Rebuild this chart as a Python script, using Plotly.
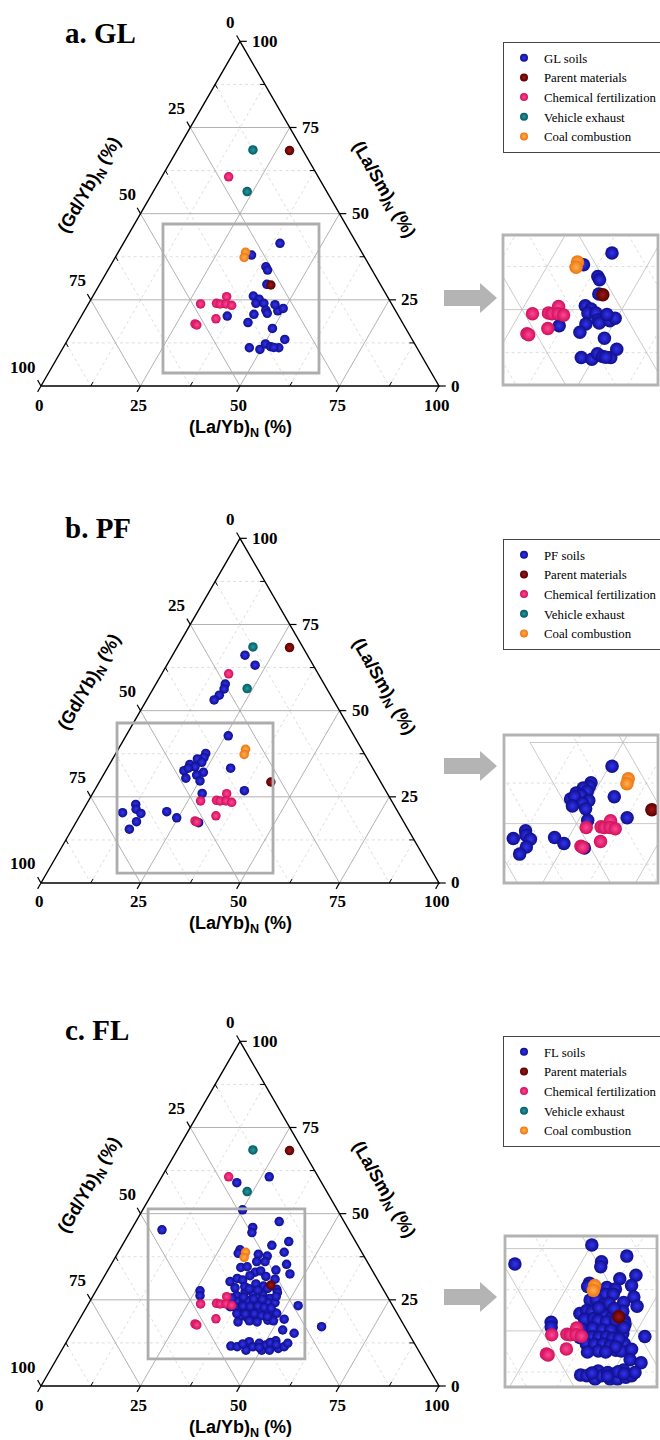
import numpy as np
import plotly.graph_objects as go

W, H = 660, 1440
S3 = np.sqrt(3) / 2

# ---------------- DATA (values in %) ----------------
# each sample: (La/Yb)N %, (La/Sm)N %   ->  (Gd/Yb)N % = 100 - the two
parent_layb = [28.3, 43.1]
parent_lasm = [68.3, 29.3]
fert_layb = [16.8, 28.2, 32.1, 33.1, 33.7, 34.6, 36.2, 34.2, 29.7, 30.3]
fert_lasm = [60.7, 23.8, 24.0, 23.8, 25.9, 23.8, 23.4, 19.5, 18.0, 17.7]
vehicle_layb = [19.0, 23.6]
vehicle_lasm = [68.5, 56.4]
coal_layb = [32.0, 32.4]
coal_lasm = [38.8, 37.3]

gl_layb = [39.35, 33.9, 39.2, 40.1, 42.0, 40.3, 42.2, 42.0, 44.0, 45.5, 46.3, 48.6, 49.6,
           43.1, 42.8, 49.8, 36.65, 46.8, 49.7, 50.3, 52.0, 54.2, 54.5, 52.9, 47.0]
gl_lasm = [41.4, 38.0, 34.6, 33.65, 29.5, 26.1, 25.2, 24.0, 24.0, 22.0, 21.1, 21.8, 22.5,
           20.8, 18.4, 16.7, 20.3, 11.1, 10.6, 12.2, 11.4, 11.1, 13.5, 11.2, 23.6]

pf_layb = [18.2, 22.2, 17.45, 17.85, 17.55, 16.95, 25.7, 31.0, 37.7, 27.5, 22.6, 22.75, 21.3,
           22.9, 20.2, 21.85, 19.6, 20.35, 24.75, 23.45, 21.2, 25.15, 10.3, 12.4, 13.2, 15.0,
           15.1, 14.4, 21.25, 24.65, 30.85]
pf_lasm = [66.1, 63.2, 57.7, 56.3, 54.5, 53.1, 42.7, 33.3, 26.8, 26.0, 37.6, 36.4, 36.0,
           35.0, 34.4, 33.7, 32.6, 33.3, 32.1, 31.3, 30.4, 29.6, 20.4, 22.8, 21.4, 20.2,
           17.8, 15.6, 20.7, 18.9, 17.5]

fl_layb = [27.0, 19.7, 25.1, 36.0, 7.75, 30.2, 30.75, 41.3, 37.6, 41.7, 30.25, 30.3, 35.5, 38.0,
           36.15, 38.25, 44.05, 33.0, 34.5, 37.3, 38.5, 42.2, 46.3, 32.35, 33.7, 35.3, 39.2, 41.4,
           43.3, 45.2, 45.85, 26.15, 26.85, 36.1, 37.6, 40.0, 42.5, 44.8, 36.0, 37.05, 38.8, 39.35,
           41.55, 43.55, 45.0, 46.7, 38.55, 40.3, 41.95, 43.85, 45.8, 47.4, 48.65, 39.95, 41.9,
           44.25, 47.45, 48.95, 51.4, 52.95, 61.9, 52.6, 55.95, 41.9, 43.6, 46.3, 45.9, 47.5,
           48.65, 50.25, 50.55, 52.2, 52.45, 54.15, 55.4, 55.8,
           34.5, 36.8, 38.2, 40.6, 42.8, 35.2, 38.0, 40.8, 43.0, 46.1, 37.3, 39.2, 41.0, 42.9,
           44.7, 46.5, 38.7, 40.9, 43.1, 45.2, 46.8, 42.9, 45.0, 40.2, 44.6, 49.2, 51.3, 53.1,
           40.6, 36.5]
fl_lasm = [60.7, 59.0, 51.1, 47.7, 45.3, 46.0, 44.5, 41.9, 40.8, 38.8, 39.5, 38.5, 38.2, 37.7,
           36.1, 36.1, 35.3, 34.4, 34.6, 33.0, 33.4, 33.65, 32.5, 30.3, 31.2, 30.75, 29.6, 29.0,
           31.0, 28.05, 27.1, 27.6, 26.2, 26.2, 27.4, 26.7, 26.4, 25.4, 23.0, 24.5, 24.0, 24.9,
           24.5, 24.3, 24.2, 24.2, 22.3, 22.0, 22.3, 22.0, 21.4, 21.55, 21.1, 20.1, 19.8,
           20.1, 19.1, 18.9, 19.4, 23.3, 17.2, 16.25, 15.3, 11.6, 11.4, 10.4, 12.85, 11.4,
           12.4, 10.4, 11.9, 10.4, 13.1, 10.9, 11.4, 12.4,
           28.5, 28.8, 28.2, 27.8, 28.3, 25.5, 25.8, 25.3, 25.2, 26.0, 22.9, 23.2, 23.1, 23.2,
           22.8, 22.6, 21.0, 20.9, 21.0, 20.4, 20.2, 18.9, 18.6, 18.6, 12.2, 11.2, 12.6, 12.0,
           31.8, 32.0]

panel_titles = ["a. GL", "b. PF", "c. FL"]
soil_names = ["GL soils", "PF soils", "FL soils"]
source_names = ["Parent materials", "Chemical fertilization", "Vehicle exhaust", "Coal combustion"]
tick_vals = [0, 25, 50, 75, 100]
minor_vals = [12.5, 37.5, 62.5, 87.5]

# zoom windows (units of the bottom axis) : main-rectangle and inset view
zoom_rect = [([30.65, 69.85], [3.27, 40.7]), ([19.1, 58.3], [2.5, 40.2]), ([26.9, 66.3], [6.8, 44.5])]
inset_view = [([32.7, 71.6], [2.7, 40.4]), ([18.0, 59.4], [5.8, 45.3]), ([27.8, 67.8], [6.9, 46.6])]

# ---------------- STYLE / LAYOUT GEOMETRY ----------------
SERIF = "Liberation Serif"
SANS = "Liberation Sans"
PX0, SC = 41.0, 3.98
panel_px = [dict(top=0, bot=460, yb=386), dict(top=480, bot=960, yb=883), dict(top=980, bot=1440, yb=1386)]
inset_px = [(503, 658, 235, 385), (504, 658, 735, 883), (505, 657, 1236, 1387)]
arrow_cy = [298, 766, 1297]
legend_top = [42, 539, 1036]
title_y = [33, 528, 1030]

COL = {
    "soil": ("#0e0e8c", "#3434f0"),
    "parent": ("#560000", "#a01818"),
    "fert": ("#d0105c", "#ff4896"),
    "vehicle": ("#005a62", "#2a98a0"),
    "coal": ("#ee7410", "#ffb050"),
}


def tern(layb, lasm):
    layb = np.asarray(layb, float)
    lasm = np.asarray(lasm, float)
    return layb + lasm / 2.0, lasm * S3


def grid_xy(vals):
    xs, ys = [], []
    for t in vals:
        xs += [t / 2, 100 - t / 2, None]; ys += [t * S3, t * S3, None]
        xs += [(100 - t) / 2, 100 - t, None]; ys += [(100 - t) * S3, 0, None]
        xs += [t, t + (100 - t) / 2, None]; ys += [0, (100 - t) * S3, None]
    return xs, ys


def tick_xy(vals, L):
    xs, ys = [], []
    for t in vals:
        xs += [t, t - 0.5 * L, None]; ys += [0, -S3 * L, None]
        x0, y0 = 100 - t / 2, t * S3
        xs += [x0, x0 + L, None]; ys += [y0, y0, None]
        x0, y0 = (100 - t) / 2, (100 - t) * S3
        xs += [x0, x0 - 0.5 * L, None]; ys += [y0, y0 + S3 * L, None]
    return xs, ys


def in_rect(x, y, rect):
    (x0, x1), (y0, y1) = rect
    m = (x >= x0) & (x <= x1) & (y >= y0) & (y <= y1)
    return x[m], y[m]


fig = go.Figure()
layout = dict(width=W, height=H, margin=dict(l=0, r=0, t=0, b=0, autoexpand=False),
              paper_bgcolor="white", plot_bgcolor="white", showlegend=True)
annotations, shapes = [], []

soils = [(gl_layb, gl_lasm), (pf_layb, pf_lasm), (fl_layb, fl_lasm)]
sources = [("parent", parent_layb, parent_lasm), ("fert", fert_layb, fert_lasm),
           ("vehicle", vehicle_layb, vehicle_lasm), ("coal", coal_layb, coal_lasm)]


def marker(key, size):
    edge, center = COL[key]
    return dict(color=edge, size=size, line=dict(width=0),
                gradient=dict(type="radial", color=center))


for i in range(3):
    g = panel_px[i]
    mx, my = (f"x{2*i+1}", f"y{2*i+1}") if i else ("x", "y")
    ix, iy = f"x{2*i+2}", f"y{2*i+2}"
    mxk, myk = ("xaxis" + (str(2*i+1) if i else "")), ("yaxis" + (str(2*i+1) if i else ""))
    ixk, iyk = f"xaxis{2*i+2}", f"yaxis{2*i+2}"
    lg = "legend" if i == 0 else f"legend{i+1}"

    layout[mxk] = dict(domain=[0, 480 / W], range=[-PX0 / SC, (480 - PX0) / SC],
                       visible=False, fixedrange=True)
    layout[myk] = dict(domain=[1 - g["bot"] / H, 1 - g["top"] / H],
                       range=[(g["yb"] - g["bot"]) / SC, (g["yb"] - g["top"]) / SC],
                       visible=False, fixedrange=True)
    x0p, x1p, y0p, y1p = inset_px[i]
    layout[ixk] = dict(domain=[x0p / W, x1p / W], range=inset_view[i][0],
                       visible=False, fixedrange=True)
    layout[iyk] = dict(domain=[1 - y1p / H, 1 - y0p / H], range=inset_view[i][1],
                       visible=False, fixedrange=True)

    # grids (main + inset)
    for (ax, ay, wmaj, wmin, cmaj) in [(mx, my, 0.9, 0.8, "#a8a8a8"), (ix, iy, 0.8, 0.8, "#bdbdbd")]:
        gx, gy = grid_xy(minor_vals)
        fig.add_trace(go.Scatter(x=gx, y=gy, mode="lines", xaxis=ax, yaxis=ay, showlegend=False,
                                 hoverinfo="skip", line=dict(color="#d6d6d6", width=wmin, dash="dot")))
        gx, gy = grid_xy([25, 50, 75])
        fig.add_trace(go.Scatter(x=gx, y=gy, mode="lines", xaxis=ax, yaxis=ay, showlegend=False,
                                 hoverinfo="skip", line=dict(color=cmaj, width=wmaj)))

    tx, ty = tern([0, 100, 0, 0], [0, 0, 100, 0])
    fig.add_trace(go.Scatter(x=tx, y=ty, mode="lines", xaxis=mx, yaxis=my, showlegend=False,
                             hoverinfo="skip", line=dict(color="black", width=1.4)))
    kx, ky = tick_xy(tick_vals, 1.7)
    fig.add_trace(go.Scatter(x=kx, y=ky, mode="lines", xaxis=mx, yaxis=my, showlegend=False,
                             hoverinfo="skip", line=dict(color="black", width=1.2)))
    kx, ky = tick_xy(minor_vals, -1.2)
    fig.add_trace(go.Scatter(x=kx, y=ky, mode="lines", xaxis=mx, yaxis=my, showlegend=False,
                             hoverinfo="skip", line=dict(color="black", width=1.0)))

    # data points: main triangle and zoomed inset (inset shows the rectangle's samples)
    sl, sm = soils[i]
    groups = [("soil", sl, sm)] + sources
    for key, lb, ls in groups:
        px_, py_ = tern(lb, ls)
        fig.add_trace(go.Scatter(x=px_, y=py_, mode="markers", xaxis=mx, yaxis=my,
                                 showlegend=False, hoverinfo="skip", marker=marker(key, 9.5)))
    for key, lb, ls in groups:
        px_, py_ = in_rect(*tern(lb, ls), zoom_rect[i])
        fig.add_trace(go.Scatter(x=px_, y=py_, mode="markers", xaxis=ix, yaxis=iy,
                                 showlegend=False, hoverinfo="skip", marker=marker(key, 13.5)))

    # legend entries
    names = [soil_names[i]] + source_names
    keys = ["soil", "parent", "fert", "vehicle", "coal"]
    for nm, key in zip(names, keys):
        fig.add_trace(go.Scatter(x=[None], y=[None], mode="markers", xaxis=mx, yaxis=my, name=nm,
                                 legend=lg, showlegend=True, marker=marker(key, 8)))
    layout[lg] = dict(x=503 / W, y=1 - legend_top[i] / H, xanchor="left", yanchor="top",
                      bgcolor="white", bordercolor="#444", borderwidth=1,
                      font=dict(family=SERIF, size=12.8, color="black"),
                      tracegroupgap=0, itemwidth=30)

    # tick labels
    tf = dict(family=SERIF, size=17, color="black")
    for t in tick_vals:
        annotations.append(dict(x=t, y=0, xref=mx, yref=my, text=f"<b>{t}</b>", showarrow=False,
                                xanchor="center", yanchor="middle", xshift=-2, yshift=-19, font=tf))
        annotations.append(dict(x=100 - t / 2, y=t * S3, xref=mx, yref=my, text=f"<b>{t}</b>",
                                showarrow=False, xanchor="left", yanchor="middle", xshift=10, font=tf))
        annotations.append(dict(x=(100 - t) / 2, y=(100 - t) * S3, xref=mx, yref=my,
                                text=f"<b>{t}</b>", showarrow=False, xanchor="right",
                                yanchor="middle", xshift=-3, yshift=19, font=tf))
    af = dict(family=SANS, size=18, color="black")
    annotations.append(dict(x=50, y=0, xref=mx, yref=my, text="<b>(La/Yb)<sub>N</sub> (%)</b>",
                            showarrow=False, yshift=-42, font=af))
    annotations.append(dict(x=25, y=50 * S3, xref=mx, yref=my, text="<b>(Gd/Yb)<sub>N</sub> (%)</b>",
                            showarrow=False, textangle=-60, xshift=-50, yshift=28, font=af))
    annotations.append(dict(x=75, y=50 * S3, xref=mx, yref=my, text="<b>(La/Sm)<sub>N</sub> (%)</b>",
                            showarrow=False, textangle=60, xshift=43, yshift=24, font=af))
    annotations.append(dict(x=63 / W, y=1 - title_y[i] / H, xref="paper", yref="paper",
                            text=f"<b>{panel_titles[i]}</b>", showarrow=False, xanchor="left",
                            yanchor="middle", font=dict(family=SERIF, size=29, color="black")))

    (rx0, rx1), (ry0, ry1) = zoom_rect[i]
    shapes.append(dict(type="rect", xref=mx, yref=my, x0=rx0, x1=rx1, y0=ry0, y1=ry1,
                       line=dict(color="#adadad", width=2.8)))
    shapes.append(dict(type="rect", xref="paper", yref="paper", x0=x0p / W, x1=x1p / W,
                       y0=1 - y1p / H, y1=1 - y0p / H, line=dict(color="#b3b3b3", width=2.8)))
    cy = arrow_cy[i]
    pts = [(444, cy - 8), (480, cy - 8), (480, cy - 15), (497, cy), (480, cy + 15),
           (480, cy + 8), (444, cy + 8)]
    path = "M " + " L ".join(f"{x / W:.5f},{1 - y / H:.5f}" for x, y in pts) + " Z"
    shapes.append(dict(type="path", xref="paper", yref="paper", path=path,
                       fillcolor="#b4b4b4", line=dict(width=0)))

layout["annotations"] = annotations
layout["shapes"] = shapes
fig.update_layout(**layout)
fig.write_html("out.html")
